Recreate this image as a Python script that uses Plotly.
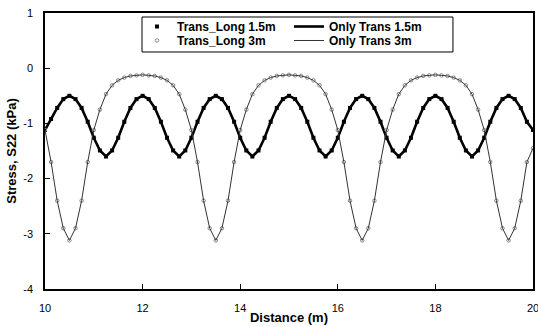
import plotly.graph_objects as go

# Distance along the section (m)
distance_m = [
    10.0, 10.125, 10.25, 10.375, 10.5, 10.625, 10.75, 10.875, 11.0, 11.125, 11.25, 11.375,
    11.5, 11.625, 11.75, 11.875, 12.0, 12.125, 12.25, 12.375, 12.5, 12.625, 12.75, 12.875,
    13.0, 13.125, 13.25, 13.375, 13.5, 13.625, 13.75, 13.875, 14.0, 14.125, 14.25, 14.375,
    14.5, 14.625, 14.75, 14.875, 15.0, 15.125, 15.25, 15.375, 15.5, 15.625, 15.75, 15.875,
    16.0, 16.125, 16.25, 16.375, 16.5, 16.625, 16.75, 16.875, 17.0, 17.125, 17.25, 17.375,
    17.5, 17.625, 17.75, 17.875, 18.0, 18.125, 18.25, 18.375, 18.5, 18.625, 18.75, 18.875,
    19.0, 19.125, 19.25, 19.375, 19.5, 19.625, 19.75, 19.875, 20.0,
]

# Vertical stress S22 (kPa), 1.5 m spacing
s22_1p5m = [
    -1.12, -0.92, -0.72, -0.56, -0.50, -0.56, -0.72, -0.97, -1.26, -1.49, -1.60, -1.49,
    -1.26, -0.97, -0.72, -0.56, -0.50, -0.56, -0.72, -0.97, -1.26, -1.49, -1.60, -1.49,
    -1.26, -0.97, -0.72, -0.56, -0.50, -0.56, -0.72, -0.97, -1.26, -1.49, -1.60, -1.49,
    -1.26, -0.97, -0.72, -0.56, -0.50, -0.56, -0.72, -0.97, -1.26, -1.49, -1.60, -1.49,
    -1.26, -0.97, -0.72, -0.56, -0.50, -0.56, -0.72, -0.97, -1.26, -1.49, -1.60, -1.49,
    -1.26, -0.97, -0.72, -0.56, -0.50, -0.56, -0.72, -0.97, -1.26, -1.49, -1.60, -1.49,
    -1.26, -0.97, -0.72, -0.56, -0.50, -0.56, -0.72, -0.97, -1.12,
]

# Vertical stress S22 (kPa), 3 m spacing
s22_3m = [
    -1.12, -1.70, -2.40, -2.90, -3.12, -2.90, -2.40, -1.70, -1.12, -0.75, -0.47, -0.31,
    -0.22, -0.17, -0.14, -0.13, -0.12, -0.13, -0.14, -0.17, -0.22, -0.31, -0.47, -0.75,
    -1.12, -1.70, -2.40, -2.90, -3.12, -2.90, -2.40, -1.70, -1.12, -0.75, -0.47, -0.31,
    -0.22, -0.17, -0.14, -0.13, -0.12, -0.13, -0.14, -0.17, -0.22, -0.31, -0.47, -0.75,
    -1.12, -1.70, -2.40, -2.90, -3.12, -2.90, -2.40, -1.70, -1.12, -0.75, -0.47, -0.31,
    -0.22, -0.17, -0.14, -0.13, -0.12, -0.13, -0.14, -0.17, -0.22, -0.31, -0.47, -0.75,
    -1.12, -1.70, -2.40, -2.90, -3.12, -2.90, -2.40, -1.70, -1.45,
]

x_ticks = [10, 12, 14, 16, 18, 20]
x_tick_text = ["10", "12", "14", "16", "18", "20"]
y_ticks = [-4, -3, -2, -1, 0, 1]
y_tick_text = ["-4", "-3", "-2", "-1", "0", "1"]

FONT = "Liberation Sans, Arial, sans-serif"

fig = go.Figure()

# One legend row per spacing: 1.5 m on top, 3 m below
fig.add_trace(go.Scatter(
    x=distance_m, y=s22_1p5m, mode="markers", name="Trans_Long 1.5m", legend="legend",
    marker=dict(symbol="square", size=4, color="black"),
))
fig.add_trace(go.Scatter(
    x=distance_m, y=s22_1p5m, mode="lines", name="Only Trans 1.5m", legend="legend",
    line=dict(color="black", width=2.6),
))
fig.add_trace(go.Scatter(
    x=distance_m, y=s22_3m, mode="markers", name="Trans_Long 3m", legend="legend2",
    marker=dict(symbol="circle-open", size=3.5, color="#888888", line=dict(width=1)),
))
fig.add_trace(go.Scatter(
    x=distance_m, y=s22_3m, mode="lines", name="Only Trans 3m", legend="legend2",
    line=dict(color="#333333", width=1),
))

axis_common = dict(
    showline=True, linecolor="black", linewidth=1.5, mirror=True,
    ticks="inside", ticklen=5, tickcolor="black", tickwidth=1.2,
    showgrid=False, zeroline=False, automargin=False,
    ticklabeloverflow="allow",
    tickfont=dict(family=FONT, size=11, color="black"),
)

fig.update_xaxes(
    range=[10, 20], tickvals=x_ticks, ticktext=x_tick_text,
    ticklabelstandoff=8,
    title=dict(text="<b>Distance (m)</b>", font=dict(family=FONT, size=13, color="black"),
               standoff=0),
    **axis_common,
)
fig.update_yaxes(
    range=[-4, 1], tickvals=y_ticks, ticktext=y_tick_text,
    ticklabelstandoff=8,
    title=dict(text="<b>Stress, S22 (kPa)</b>", font=dict(family=FONT, size=13, color="black"),
               standoff=4),
    **axis_common,
)

legend_common = dict(
    orientation="h", yanchor="top", xanchor="left", x=0.1885,
    bgcolor="rgba(0,0,0,0)", borderwidth=0,
    entrywidth=107, entrywidthmode="pixels",
    font=dict(family=FONT, size=12, color="black", weight="bold"),
    itemwidth=30,
)

# Frame enclosing both legend rows
fig.add_shape(
    type="rect", xref="paper", yref="paper",
    x0=0.1988, x1=0.836, y0=0.8587, y1=0.9855,
    line=dict(color="black", width=1), fillcolor="white", layer="above",
)

fig.update_layout(
    width=538, height=327,
    margin=dict(l=45, r=5, t=13, b=38, autoexpand=False),
    paper_bgcolor="white", plot_bgcolor="white",
    font=dict(family=FONT, color="black"),
    legend=dict(y=1.0036, **legend_common),
    legend2=dict(y=0.9529, **legend_common),
    showlegend=True,
)

fig.write_html("out.html")
